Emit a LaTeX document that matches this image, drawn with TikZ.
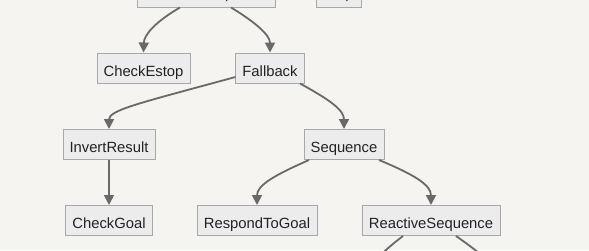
\documentclass[tikz,border=0pt]{standalone}
\usepackage{fontspec}
\setmainfont{Liberation Sans}
\usetikzlibrary{arrows.meta}
\definecolor{bgc}{RGB}{245,244,241}
\definecolor{boxfill}{RGB}{236,236,236}
\definecolor{boxline}{RGB}{168,168,168}
\definecolor{edgec}{RGB}{105,105,105}
\definecolor{txt}{RGB}{34,34,34}
\begin{document}
\begin{tikzpicture}[x=1pt,y=-1pt,
  bt/.style={draw=boxline, fill=boxfill, line width=1pt, minimum height=30pt, inner xsep=6.5pt, inner ysep=0pt,
    text height=16pt, text depth=0pt,
    text=txt, font=\fontsize{14.8pt}{17pt}\selectfont},
  toprow/.style={bt, text height=12pt},
  edge/.style={draw=edgec, line width=1.8pt, -{Triangle[width=10pt,length=10pt]}},
  plain/.style={draw=edgec, line width=1.8pt}]
\useasboundingbox (0,0) rectangle (589,250);
\clip (0,0) rectangle (589,250);
\fill[bgc] (0,0) rectangle (589,250);
\node[toprow, minimum width=129pt] (root) at (206.5,-8) {ReactiveSequence};
\node[toprow, minimum width=45pt] (stop) at (338.5,-8) {Stop};
\node[bt, minimum width=93pt] (estop) at (143.5,68) {CheckEstop};
\node[bt, minimum width=68pt] (fb) at (270,68) {Fallback};
\node[bt, minimum width=92pt] (inv) at (109,144.5) {InvertResult};
\node[bt, minimum width=80pt] (seq) at (344,144.5) {Sequence};
\node[bt, minimum width=87pt] (goal) at (109,220.5) {CheckGoal};
\node[bt, minimum width=120pt] (resp) at (257,220.5) {RespondToGoal};
\node[bt, minimum width=138pt] (rseq) at (431,220.5) {ReactiveSequence};
\coordinate (offL) at (365,275);
\coordinate (offR) at (500,275);
\draw[edge] ([xshift=-26.5pt]root.south) .. controls (155,22) and (144,35) .. (estop.north);
\draw[edge] ([xshift=24.5pt]root.south) .. controls (255,22) and (270,35) .. (fb.north);
\draw[edge] ([yshift=-9pt]fb.west) .. controls (140,103) and (109,110) .. (inv.north);
\draw[edge] ([xshift=30pt]fb.south) .. controls (330,100) and (344,110) .. (seq.north);
\draw[edge] (inv.south) -- (goal.north);
\draw[edge] ([xshift=-35pt]seq.south) .. controls (275,175) and (257,185) .. (resp.north);
\draw[edge] ([xshift=35pt]seq.south) .. controls (415,175) and (431,185) .. (rseq.north);
\draw[plain] ([xshift=-28pt]rseq.south) .. controls (390,246) and (375,258) .. (offL);
\draw[plain] ([xshift=25pt]rseq.south) .. controls (470,246) and (488,258) .. (offR);
\end{tikzpicture}
\end{document}
